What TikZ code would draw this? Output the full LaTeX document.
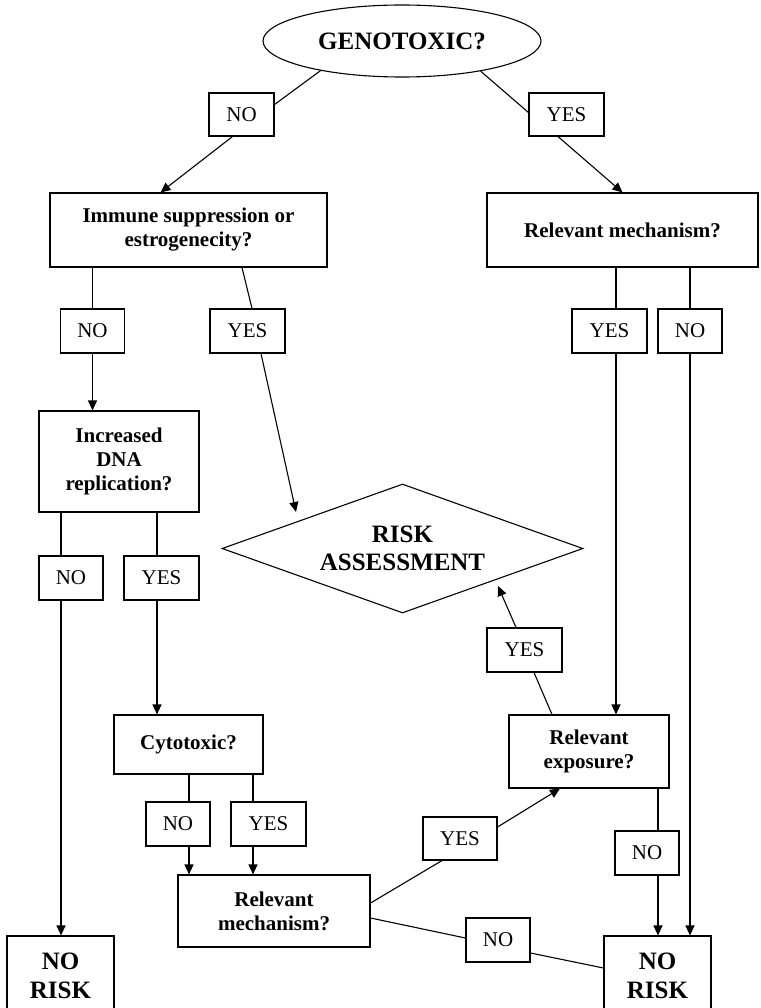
\documentclass[tikz,border=0pt]{standalone}
\usepackage{fontspec}
\setmainfont{Liberation Serif}
\usetikzlibrary{shapes.geometric,arrows.meta}
\begin{document}
\begin{tikzpicture}[x=1pt,y=-1pt,line width=1.1pt,
  qbox/.style={draw,align=center,inner sep=2pt,font=\fontsize{21}{24}\selectfont\bfseries},
  lbl/.style={draw,align=center,inner sep=2pt,minimum height=44pt,font=\fontsize{21}{24}\selectfont},
  endbox/.style={draw,align=center,inner sep=2pt,minimum width=107pt,minimum height=80pt,font=\fontsize{25}{29}\selectfont\bfseries},
  arr/.style={-{Triangle[length=10pt,width=9pt]}}]
 \useasboundingbox (0,0) rectangle (760,1008);
 \node[ellipse,draw,minimum width=278pt,minimum height=72pt,inner sep=0pt,font=\fontsize{25}{29}\selectfont\bfseries] (geno) at (402,41) {GENOTOXIC?};
 \node[lbl,minimum width=65pt,minimum height=43pt] (gno) at (241.5,114.5) {NO};
 \node[lbl,minimum width=75pt,minimum height=43pt] (gyes) at (566.5,114.5) {YES};
 \node[qbox,minimum width=277pt,minimum height=74pt] (imm) at (188.5,230) {Immune suppression or\\estrogenecity?};
 \node[qbox,minimum width=271pt,minimum height=74pt] (rmech) at (622.5,230) {Relevant mechanism?};
 \node[lbl,minimum width=64pt] (ino) at (92.5,331) {NO};
 \node[lbl,minimum width=75pt] (iyes) at (247.5,331) {YES};
 \node[lbl,minimum width=75pt] (ryes) at (609.5,331) {YES};
 \node[lbl,minimum width=64pt] (rno) at (690,331) {NO};
 \node[qbox,minimum width=160pt,minimum height=101pt] (dna) at (119,461.5) {Increased\\DNA\\replication?};
 \node[diamond,draw,aspect=2.8,minimum width=361pt,minimum height=129pt,inner sep=0pt,align=center,font=\fontsize{25}{28}\selectfont\bfseries] (risk) at (402.5,548.5) {RISK\\ASSESSMENT};
 \node[lbl,minimum width=64pt] (dno) at (71,578) {NO};
 \node[lbl,minimum width=75pt] (dyes) at (161.5,578) {YES};
 \node[lbl,minimum width=75pt] (eyes) at (524.5,650) {YES};
 \node[qbox,minimum width=149pt,minimum height=59pt] (cyto) at (188.5,744.5) {Cytotoxic?};
 \node[qbox,minimum width=160pt,minimum height=73pt] (expo) at (589,751.5) {Relevant\\exposure?};
 \node[lbl,minimum width=64pt] (cno) at (178,824) {NO};
 \node[lbl,minimum width=75pt] (cyes) at (268.5,824) {YES};
 \node[lbl,minimum width=74pt,minimum height=43pt] (byes) at (460,838.5) {YES};
 \node[lbl,minimum width=64pt] (eno) at (647,853) {NO};
 \node[qbox,minimum width=192pt,minimum height=72pt] (bmech) at (274,911) {Relevant\\mechanism?};
 \node[lbl,minimum width=64pt] (bno) at (498,940) {NO};
 \node[endbox] (lrisk) at (60.5,976) {NO\\RISK};
 \node[endbox] (rrisk) at (657.5,976) {NO\\RISK};
 \coordinate (riskin) at (296,512);
 \coordinate (riskout) at (498,586);
 \draw (geno.200) -- ([yshift=10pt]gno.east);
 \draw (geno.339) -- ([yshift=2pt]gyes.west);
 \draw[arr] ([xshift=-9pt]gno.south) -- ([xshift=-28pt]imm.north);
 \draw[arr] ([xshift=-8.5pt]gyes.south) -- (rmech.north);
 \draw (ino.north) -- (ino.north |- imm.south);
 \draw ([xshift=53.5pt]imm.south) -- ([xshift=4.5pt]iyes.north);
 \draw[arr] ([xshift=13.5pt]iyes.south) -- (riskin);
 \draw[arr] (ino.south) -- (ino.south |- dna.north);
 \draw (rno.north) -- (rno.north |- rmech.south);
 \draw ([xshift=6.5pt]ryes.north) -- ([xshift=6.5pt]ryes.north |- rmech.south);
 \draw[arr] ([xshift=6.5pt]ryes.south) -- ([xshift=6.5pt]ryes.south |- expo.north);
 \draw[arr] (rno.south) -- (rno.south |- rrisk.north);
 \draw ([xshift=-10pt]dno.north) -- ([xshift=-10pt]dno.north |- dna.south);
 \draw ([xshift=-4.5pt]dyes.north) -- ([xshift=-4.5pt]dyes.north |- dna.south);
 \draw[arr] ([xshift=-10pt]dno.south) -- ([xshift=-10pt]dno.south |- lrisk.north);
 \draw[arr] ([xshift=-4.5pt]dyes.south) -- ([xshift=-4.5pt]dyes.south |- cyto.north);
 \draw ([xshift=11pt]cno.north) -- ([xshift=11pt]cno.north |- cyto.south);
 \draw ([xshift=-15.5pt]cyes.north) -- ([xshift=-15.5pt]cyes.north |- cyto.south);
 \draw[arr] ([xshift=11pt]cno.south) -- ([xshift=11pt]cno.south |- bmech.north);
 \draw[arr] ([xshift=-15.5pt]cyes.south) -- ([xshift=-15.5pt]cyes.south |- bmech.north);
 \draw ([xshift=-37pt]expo.north) -- ([xshift=9.5pt]eyes.south);
 \draw[arr] ([xshift=-8.5pt]eyes.north) -- (riskout);
 \draw ([xshift=11pt]eno.north) -- ([xshift=11pt]eno.north |- expo.south);
 \draw[arr] ([xshift=11pt]eno.south) -- ([xshift=11pt]eno.south |- rrisk.north);
 \draw ([yshift=8pt]bmech.east) -- ([xshift=-18pt]byes.south);
 \draw[arr] ([yshift=11.5pt]byes.east) -- ([xshift=-29pt]expo.south);
 \draw ([yshift=-7pt]bmech.east) -- ([yshift=2pt]bno.west);
 \draw ([yshift=-13pt]bno.east) -- ([yshift=8pt]rrisk.west);
\end{tikzpicture}
\end{document}
